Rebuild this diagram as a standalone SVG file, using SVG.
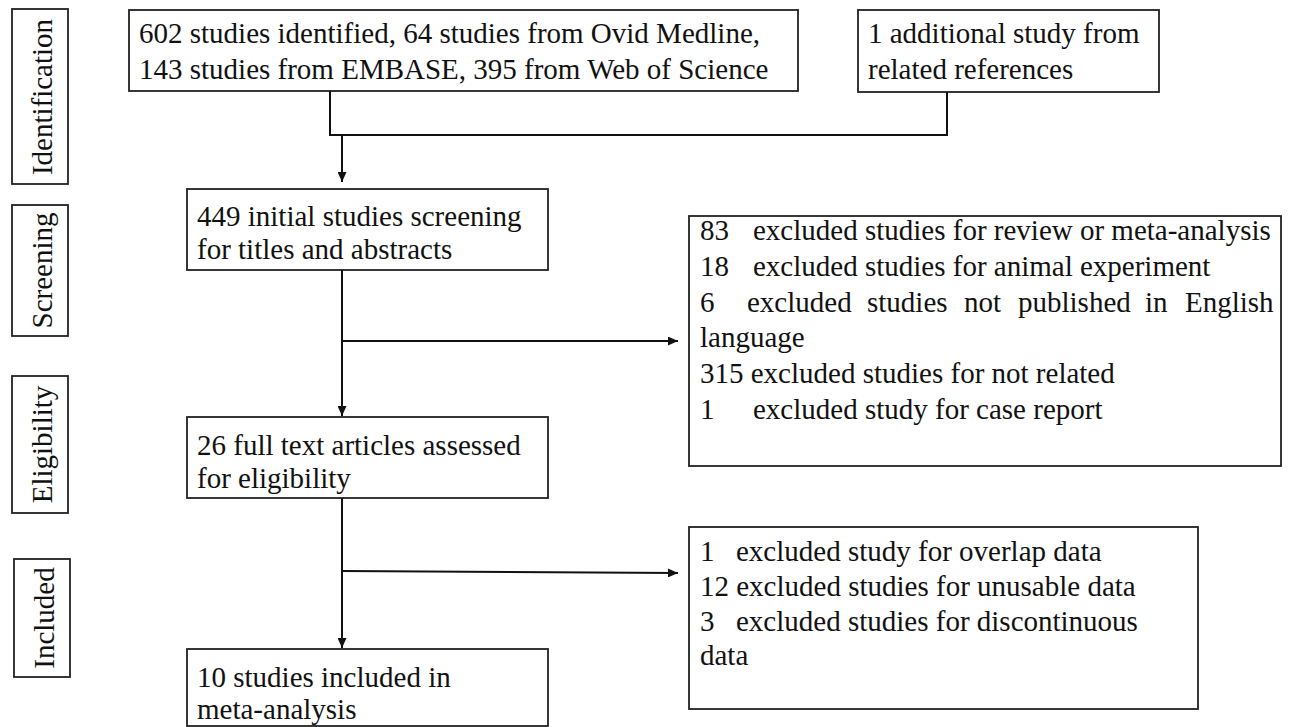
<svg xmlns="http://www.w3.org/2000/svg" width="1290" height="727" viewBox="0 0 1290 727">
<style>
.box{fill:#fff;stroke:#222;stroke-width:1.8}
.t{font-family:"Liberation Serif","Times New Roman",Times,serif;font-size:29px;fill:#111}
.con{fill:none;stroke:#111;stroke-width:2}
</style>
<defs>
<marker id="ah" markerUnits="userSpaceOnUse" markerWidth="10" markerHeight="9" refX="10" refY="4.5" orient="auto">
<path d="M0,0 L10,4.5 L0,9 z" fill="#111"/>
</marker>
</defs>
<rect width="1290" height="727" fill="#fff"/>

<g id="stage-identification">
<rect class="box" x="12" y="9" width="56" height="175"/>
<text class="t" transform="translate(52,97) rotate(-90)" text-anchor="middle">Identification</text>
</g>
<g id="stage-screening">
<rect class="box" x="12" y="205" width="56" height="131"/>
<text class="t" transform="translate(52,270.5) rotate(-90)" text-anchor="middle">Screening</text>
</g>
<g id="stage-eligibility">
<rect class="box" x="12" y="376" width="56" height="137"/>
<text class="t" transform="translate(52,444.5) rotate(-90)" text-anchor="middle">Eligibility</text>
</g>
<g id="stage-included">
<rect class="box" x="14" y="559" width="56" height="118"/>
<text class="t" transform="translate(54,618) rotate(-90)" text-anchor="middle">Included</text>
</g>

<g id="identified">
<rect class="box" x="129" y="10" width="669" height="81"/>
<text class="t" x="139" y="43">602 studies identified, 64 studies from Ovid Medline,</text>
<text class="t" x="139" y="79">143 studies from EMBASE, 395 from Web of Science</text>
</g>
<g id="additional">
<rect class="box" x="858" y="10" width="301" height="82"/>
<text class="t" x="868" y="43">1 additional study from</text>
<text class="t" x="868" y="79">related references</text>
</g>
<g id="screened">
<rect class="box" x="187" y="189" width="361" height="81"/>
<text class="t" x="197" y="226">449 initial studies screening</text>
<text class="t" x="197" y="259">for titles and abstracts</text>
</g>
<g id="excluded-1">
<rect class="box" x="689" y="216" width="592" height="250"/>
<text class="t" y="240"><tspan x="700">83</tspan><tspan x="753">excluded studies for review or meta-analysis</tspan></text>
<text class="t" y="276"><tspan x="700">18</tspan><tspan x="753">excluded studies for animal experiment</tspan></text>
<text class="t" y="312"><tspan x="700">6</tspan><tspan x="747">excluded</tspan><tspan x="867">studies</tspan><tspan x="964">not</tspan><tspan x="1018">published</tspan><tspan x="1145">in</tspan><tspan x="1185">English</tspan></text>
<text class="t" x="700" y="347">language</text>
<text class="t" y="383"><tspan x="700">315 excluded studies for not related</tspan></text>
<text class="t" y="419"><tspan x="700">1</tspan><tspan x="753">excluded study for case report</tspan></text>
</g>
<g id="full-text">
<rect class="box" x="187" y="417" width="361" height="81"/>
<text class="t" x="197" y="455">26 full text articles assessed</text>
<text class="t" x="197" y="488">for eligibility</text>
</g>
<g id="excluded-2">
<rect class="box" x="689" y="527" width="509" height="182"/>
<text class="t" y="561"><tspan x="700">1</tspan><tspan x="736">excluded study for overlap data</tspan></text>
<text class="t" y="596"><tspan x="700">12 excluded studies for unusable data</tspan></text>
<text class="t" y="631"><tspan x="700">3</tspan><tspan x="736">excluded studies for discontinuous</tspan></text>
<text class="t" x="700" y="665">data</text>
</g>
<g id="included">
<rect class="box" x="187" y="649" width="361" height="77"/>
<text class="t" x="197" y="687">10 studies included in</text>
<text class="t" x="197" y="719">meta-analysis</text>
</g>

<g id="connectors">
<path class="con" d="M330,91 V135 H947 V92"/>
<path class="con" d="M342,135 V182" marker-end="url(#ah)"/>
<path class="con" d="M342,270 V416" marker-end="url(#ah)"/>
<path class="con" d="M342,341 H678" marker-end="url(#ah)"/>
<path class="con" d="M342,498 V648" marker-end="url(#ah)"/>
<path class="con" d="M342,571 L678,573" marker-end="url(#ah)"/>
</g>
</svg>
